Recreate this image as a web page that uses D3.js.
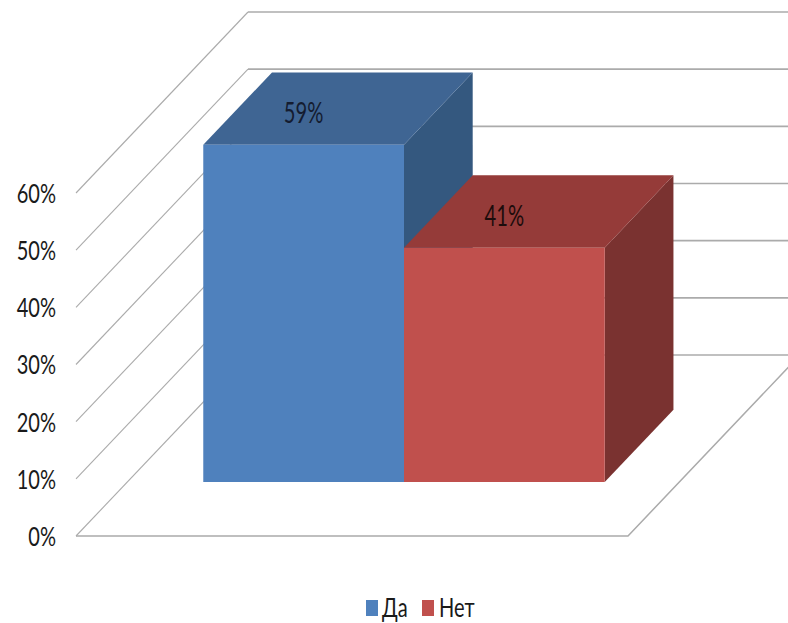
<!DOCTYPE html>
<html>
<head>
<meta charset="utf-8">
<script src="https://cdn.jsdelivr.net/npm/d3@7/dist/d3.min.js"></script>
<style>
html,body{margin:0;padding:0;background:#fff;}
svg{display:block;}
text{font-family:Lato,"Open Sans",sans-serif;}
</style>
</head>
<body>
<svg id="chart" width="788" height="623"></svg>
<script>
const seriesNames = ["Да", "Нет"];
const seriesValues = [59, 41];
const seriesLabels = ["59%", "41%"];
const axisTicks = [0, 10, 20, 30, 40, 50, 60];
const frontColors = ["#4F81BD", "#C0504D"];
const topColors = ["#3F6593", "#953B39"];
const sideColors = ["#34587F", "#7A3230"];

const svg = d3.select("#chart");
const gridColor = "#ABABAB";
const fontSize = 26;
const squeeze = 0.77;
const labelFontSize = 28;
const labelSqueeze = 0.72;

// value -> height on the front plane
const y = d3.scaleLinear().domain([0, 60]).range([536, 193]);
// plot width -> horizontal position on the front plane
const x = d3.scaleLinear().domain([0, 1]).range([76, 628]);
// depth -> oblique shift
const zx = d3.scaleLinear().domain([0, 1]).range([0, 172]);
const zy = d3.scaleLinear().domain([0, 1]).range([0, -181]);
const project = (u, v, z) => [x(u) + zx(z), y(v) + zy(z)];
const line = d3.line();

// bars occupy a fixed band of the plot width and the floor depth
const band = d3.scaleBand().domain(seriesNames).range([0.1377, 0.865]);
const barZ = [0.298, 0.6975];

const grid = svg.append("g").attr("fill", "none").attr("stroke", gridColor);
// walls
axisTicks.forEach(t => {
  grid.append("path").attr("stroke-width", 1.1)
    .attr("d", line([project(0, t, 0), project(0, t, 1)]));
  grid.append("path").attr("stroke-width", 1.6)
    .attr("d", line([project(0, t, 1), project(1.03, t, 1)]));
});
// floor
grid.append("path").attr("stroke-width", 1.5)
  .attr("d", line([project(0, 0, 0), project(1, 0, 0), project(1, 0, 1)]));

const squeezeAt = (px, k) => `translate(${px},0) scale(${k},1) translate(${-px},0)`;

// bars
const bars = svg.append("g");
seriesNames.forEach((name, i) => {
  const x0 = band(name), x1 = x0 + band.bandwidth(), v = seriesValues[i];
  const [zf, zb] = barZ;
  bars.append("path").attr("fill", sideColors[i])
    .attr("d", line([project(x1, 0, zf), project(x1, 0, zb), project(x1, v, zb), project(x1, v, zf)]) + "Z");
  bars.append("path").attr("fill", topColors[i])
    .attr("d", line([project(x0, v, zf), project(x1, v, zf), project(x1, v, zb), project(x0, v, zb)]) + "Z");
  bars.append("path").attr("fill", frontColors[i])
    .attr("d", line([project(x0, 0, zf), project(x1, 0, zf), project(x1, v, zf), project(x0, v, zf)]) + "Z");
});
// data labels, centred over the front face and on the mid-depth of the top
seriesNames.forEach((name, i) => {
  const x0 = band(name), x1 = x0 + band.bandwidth(), v = seriesValues[i];
  const front = project((x0 + x1) / 2, v, barZ[0]);
  const mid = project((x0 + x1) / 2, v, (barZ[0] + barZ[1]) / 2);
  svg.append("text").attr("x", front[0]).attr("y", mid[1] + 14.5)
    .attr("text-anchor", "middle").attr("font-size", labelFontSize)
    .attr("fill", i === 0 ? "#141c30" : "#1c0c0c")
    .attr("transform", squeezeAt(front[0], labelSqueeze))
    .text(seriesLabels[i]);
});

// value axis
const axis = d3.axisLeft(y).tickValues(axisTicks).tickSize(0).tickPadding(0).tickFormat(d => d + "%");
const gAxis = svg.append("g").attr("transform", "translate(56,0)").call(axis);
gAxis.select(".domain").remove();
gAxis.selectAll("text").attr("font-size", fontSize).attr("fill", "#1a1a1a")
  .attr("font-family", 'Lato,"Open Sans",sans-serif')
  .attr("dy", "0.36em")
  .attr("transform", `scale(${squeeze},1)`);

// legend
const legendX = d3.scaleOrdinal().domain(seriesNames).range([366, 422]);
const legend = svg.append("g");
seriesNames.forEach((name, i) => {
  const tx = legendX(name) + 16 + i;
  legend.append("rect").attr("x", legendX(name)).attr("y", 600)
    .attr("width", 12).attr("height", 16).attr("fill", frontColors[i]);
  legend.append("text").attr("x", tx).attr("y", 617)
    .attr("font-size", fontSize).attr("fill", "#1a1a1a")
    .attr("transform", squeezeAt(tx, squeeze))
    .text(name);
});
</script>
</body>
</html>
